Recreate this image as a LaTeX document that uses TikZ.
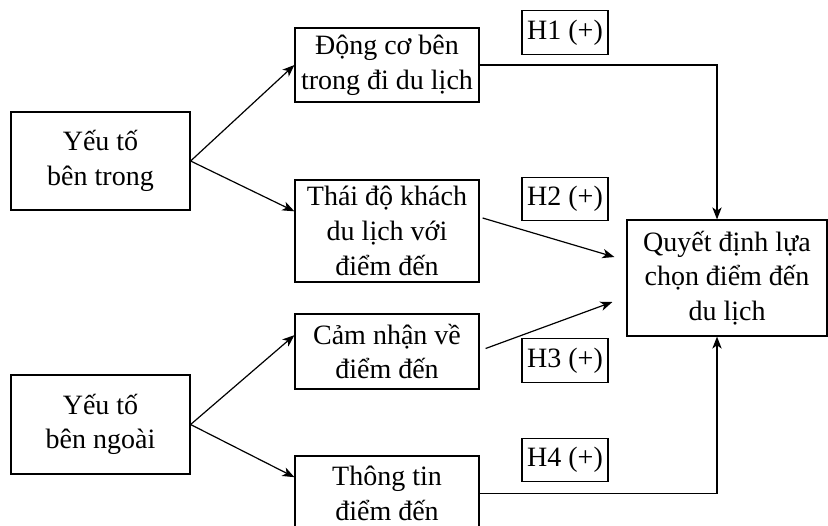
\documentclass[tikz,border=0pt]{standalone}
\usepackage{fontspec}
\setmainfont{Liberation Serif}
\usetikzlibrary{arrows.meta,calc}
\begin{document}
\begin{tikzpicture}
[x=0.75pt,y=-0.75pt,
  boxdecorate/.style={shape=rectangle,draw,line width=0.9pt,inner sep=0pt,align=center,
    font=\fontsize{21}{26}\selectfont},
  labeldecorate/.style={shape=rectangle,draw,line width=0.9pt,inner sep=0pt,
    minimum width=64.5pt,minimum height=32.5pt,font=\fontsize{21}{24}\selectfont},
  linedecorate/.style={line width=0.9pt,-{Stealth[length=9pt,width=7pt,inset=2.5pt]}}]
\useasboundingbox (0,0) rectangle (828,525);
\clip (0,0) rectangle (828,525);
%% boxes
\foreach \nodename/\x/\y/\w/\h/\txt in {
  in/100.5/161/179/98/{Yếu tố\\bên trong},
  out/100.5/424.5/179/99/{Yếu tố\\bên ngoài},
  m1/387/65/184/74/{Động cơ bên\\trong đi du lịch},
  m2/387/231/184/102/{Thái độ khách\\du lịch với\\điểm đến},
  m3/387/351.5/184/75/{Cảm nhận về\\điểm đến},
  m4/387/493.5/184/75/{Thông tin\\điểm đến},
  dec/727/278/200/116/{Quyết định lựa\\chọn điểm đến\\du lịch}} {
  \node (\nodename) at (\x,\y) [boxdecorate,minimum width=\w*0.75pt,minimum height=\h*0.75pt] {\txt};
}
%% hypothesis labels
\foreach \nodename/\y/\txt in {h1/32.5/H1, h2/199/H2, h3/360.5/H3, h4/460/H4} {
  \node (\nodename) at (565,\y) [labeldecorate] {\txt{} (+)};
}
%% arrows
\path
\foreach \startnode/\endnode in {in/m1.west, in/m2.168, out/m3.170, out/m4.170} {
  (\startnode.east) edge[linedecorate] (\endnode)
};
\draw[linedecorate] (m1.east) -| ($(dec.north)+(-10,0)$);
\draw[linedecorate] (m4.east) -| ($(dec.south)+(-10,0)$);
\draw[linedecorate] ($(m2.8)+(3,0)$) -- ($(dec.west)+(-12,-21)$);
\draw[linedecorate] ($(m3.east)+(6,-3)$) -- ($(dec.west)+(-14,24)$);
\end{tikzpicture}
\end{document}
